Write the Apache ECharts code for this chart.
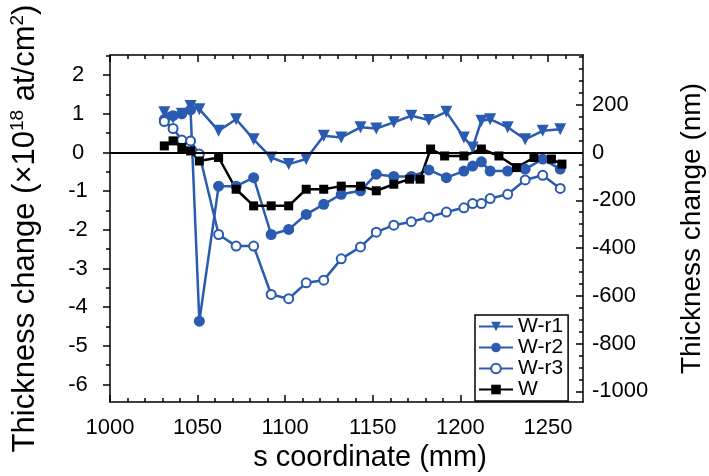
<!DOCTYPE html>
<html>
<head>
<meta charset="utf-8">
<script src="https://cdn.jsdelivr.net/npm/echarts@6/dist/echarts.min.js"></script>
<style>
html,body{margin:0;padding:0;background:#fff;}
#chart{width:709px;height:476px;}
</style>
</head>
<body>
<div id="chart"></div>
<script>
// ---- data ----
const sR = [1031, 1036, 1041, 1046, 1051, 1062, 1072, 1082, 1092, 1102, 1112, 1122, 1132, 1143, 1152, 1162, 1172, 1182, 1192, 1202, 1207, 1212, 1217, 1227, 1237, 1247, 1257];
const wr1 = [1.04, 0.90, 1.00, 1.20, 1.12, 0.56, 0.86, 0.34, -0.13, -0.30, -0.17, 0.43, 0.39, 0.65, 0.62, 0.78, 0.95, 0.84, 1.05, 0.39, 0.13, 0.82, 0.86, 0.65, 0.34, 0.56, 0.60];
const wr2 = [0.85, 0.95, 1.00, 1.10, -4.36, -0.87, -0.87, -0.65, -2.12, -1.99, -1.60, -1.34, -1.08, -0.99, -0.56, -0.62, -0.62, -0.45, -0.65, -0.48, -0.35, -0.24, -0.48, -0.48, -0.43, -0.17, -0.43];
const wr3 = [0.80, 0.62, 0.32, 0.30, -0.04, -2.12, -2.42, -2.42, -3.67, -3.78, -3.37, -3.30, -2.75, -2.44, -2.06, -1.88, -1.79, -1.67, -1.54, -1.43, -1.32, -1.32, -1.19, -1.08, -0.71, -0.59, -0.93];
const sW = [1031, 1036, 1041, 1046, 1051, 1062, 1072, 1082, 1092, 1102, 1112, 1122, 1132, 1143, 1152, 1162, 1171, 1177, 1183, 1191, 1202, 1212, 1222, 1232, 1242, 1252, 1258];
const w = [0.17, 0.30, 0.13, 0.04, -0.22, -0.13, -0.95, -1.38, -1.38, -1.38, -0.95, -0.95, -0.87, -0.87, -0.99, -0.82, -0.69, -0.69, 0.09, -0.09, -0.09, 0.09, -0.09, -0.39, -0.13, -0.17, -0.30];

const xMajor = [1000, 1050, 1100, 1150, 1200, 1250];
const xAll = [1000,1010,1020,1030,1040,1050,1060,1070,1080,1090,1100,1110,1120,1130,1140,1150,1160,1170,1180,1190,1200,1210,1220,1230,1240,1250,1260];
const yMajor = [-6, -5, -4, -3, -2, -1, 0, 1, 2];
const yAll = [-6, -5.5, -5, -4.5, -4, -3.5, -3, -2.5, -2, -1.5, -1, -0.5, 0, 0.5, 1, 1.5, 2, 2.5];
const nmMajor = [-1000, -800, -600, -400, -200, 0, 200];
const nmAll = [-1000,-950,-900,-850,-800,-750,-700,-650,-600,-550,-500,-450,-400,-350,-300,-250,-200,-150,-100,-50,0,50,100,150,200,250,300,350,400];

const X_MIN = 1000, X_MAX = 1270;
const Y_MIN = -6.45, Y_MAX = 2.52;
const NM_PER_UNIT = 161.9;

const FONT = 'Liberation Sans, Arial, sans-serif';
const BLUE = '#2a5bb0';
const BLACK = '#000';
const plain = v => String(v);

const chart = echarts.init(document.getElementById('chart'), null, {renderer: 'canvas'});

const lineStyle = {color: BLACK, width: 1.5};
function xAxisDef(pos, ticks, len, showLine, labels) {
  return {
    type: 'value', position: pos, min: X_MIN, max: X_MAX,
    axisLine: {show: showLine, onZero: false, lineStyle: lineStyle},
    axisTick: {show: true, inside: true, length: len, customValues: ticks, lineStyle: lineStyle},
    axisLabel: labels ? {show: true, customValues: xMajor, formatter: plain, fontFamily: FONT, fontSize: 22, color: BLACK, margin: 15} : {show: false},
    splitLine: {show: false}
  };
}

const option = {
  animation: false,
  backgroundColor: '#fff',
  grid: {left: 110, right: 126, top: 55, bottom: 74, containLabel: false, outerBoundsMode: 'none'},
  legend: {
    orient: 'vertical', left: 475, top: 315,
    data: ['W-r1', 'W-r2', 'W-r3', 'W'],
    itemWidth: 34, itemHeight: 12, itemGap: 0, itemTextGap: 4,
    padding: [1, 5, 1, 3],
    borderColor: BLACK, borderWidth: 1.5, backgroundColor: '#fff',
    textStyle: {fontFamily: FONT, fontSize: 21, color: BLACK, lineHeight: 20}
  },
  xAxis: [
    Object.assign(xAxisDef('bottom', xAll, 4, true, true), {
      name: 's coordinate (mm)', nameLocation: 'middle', nameGap: 41,
      nameTextStyle: {fontFamily: FONT, fontSize: 29, color: BLACK, padding: [0, 0, 0, 47]}
    }),
    xAxisDef('bottom', xMajor, 7, false, false),
    xAxisDef('top', xAll, 4, true, false),
    xAxisDef('top', xMajor, 7, false, false)
  ],
  yAxis: [
    {
      type: 'value', position: 'left', min: Y_MIN, max: Y_MAX,
      axisLine: {show: true, onZero: false, lineStyle: lineStyle},
      axisTick: {show: true, inside: false, length: 4, customValues: yAll, lineStyle: lineStyle},
      axisLabel: {show: true, customValues: yMajor, formatter: plain, fontFamily: FONT, fontSize: 22, color: BLACK, margin: 32, align: 'center'},
      splitLine: {show: false},
      name: 'Thickness change (×10{s|18} at/cm{s|2})',
      nameLocation: 'middle', nameRotate: 90, nameGap: 68,
      nameTextStyle: {
        fontFamily: FONT, fontSize: 31, color: BLACK, lineHeight: 34,
        rich: {s: {fontFamily: FONT, fontSize: 19, color: BLACK, lineHeight: 22, verticalAlign: 'top'}}
      }
    },
    {
      type: 'value', position: 'left', min: Y_MIN, max: Y_MAX,
      axisLine: {show: false, onZero: false},
      axisTick: {show: true, inside: false, length: 7, customValues: yMajor, lineStyle: lineStyle},
      axisLabel: {show: false}, splitLine: {show: false}
    },
    {
      type: 'value', position: 'right', min: Y_MIN * NM_PER_UNIT, max: Y_MAX * NM_PER_UNIT,
      axisLine: {show: true, onZero: false, lineStyle: lineStyle},
      axisTick: {show: true, inside: true, length: 4, customValues: nmAll, lineStyle: lineStyle},
      axisLabel: {show: true, customValues: nmMajor, formatter: plain, fontFamily: FONT, fontSize: 22, color: BLACK, margin: 9, align: 'left'},
      splitLine: {show: false},
      name: 'Thickness change (nm)',
      nameLocation: 'middle', nameRotate: 90, nameGap: 93,
      nameTextStyle: {fontFamily: FONT, fontSize: 28, color: BLACK, lineHeight: 32}
    },
    {
      type: 'value', position: 'right', min: Y_MIN * NM_PER_UNIT, max: Y_MAX * NM_PER_UNIT,
      axisLine: {show: false, onZero: false},
      axisTick: {show: true, inside: true, length: 7, customValues: nmMajor, lineStyle: lineStyle},
      axisLabel: {show: false}, splitLine: {show: false}
    }
  ],
  series: [
    {
      name: 'W-r1', type: 'line', xAxisIndex: 0, yAxisIndex: 0,
      data: sR.map((s, i) => [s, wr1[i]]),
      symbol: 'triangle', symbolRotate: 180, symbolSize: 12, showAllSymbol: true,
      lineStyle: {color: BLUE, width: 2.5},
      itemStyle: {color: BLUE, borderWidth: 0},
      markLine: {
        silent: true, symbol: 'none', label: {show: false},
        lineStyle: {color: BLACK, width: 2, type: 'solid'},
        data: [{yAxis: 0}]
      }
    },
    {
      name: 'W-r2', type: 'line', xAxisIndex: 0, yAxisIndex: 0,
      data: sR.map((s, i) => [s, wr2[i]]),
      symbol: 'circle', symbolSize: 11, showAllSymbol: true,
      lineStyle: {color: BLUE, width: 2.5},
      itemStyle: {color: BLUE, borderWidth: 0}
    },
    {
      name: 'W-r3', type: 'line', xAxisIndex: 0, yAxisIndex: 0,
      data: sR.map((s, i) => [s, wr3[i]]),
      symbol: 'circle', symbolSize: 9, showAllSymbol: true,
      lineStyle: {color: BLUE, width: 2.5},
      itemStyle: {color: '#fff', borderColor: BLUE, borderWidth: 2}
    },
    {
      name: 'W', type: 'line', xAxisIndex: 0, yAxisIndex: 0,
      data: sW.map((s, i) => [s, w[i]]),
      symbol: 'rect', symbolSize: 9, showAllSymbol: true,
      lineStyle: {color: BLACK, width: 2.5},
      itemStyle: {color: BLACK, borderWidth: 0}
    }
  ]
};
chart.setOption(option);
</script>
</body>
</html>
